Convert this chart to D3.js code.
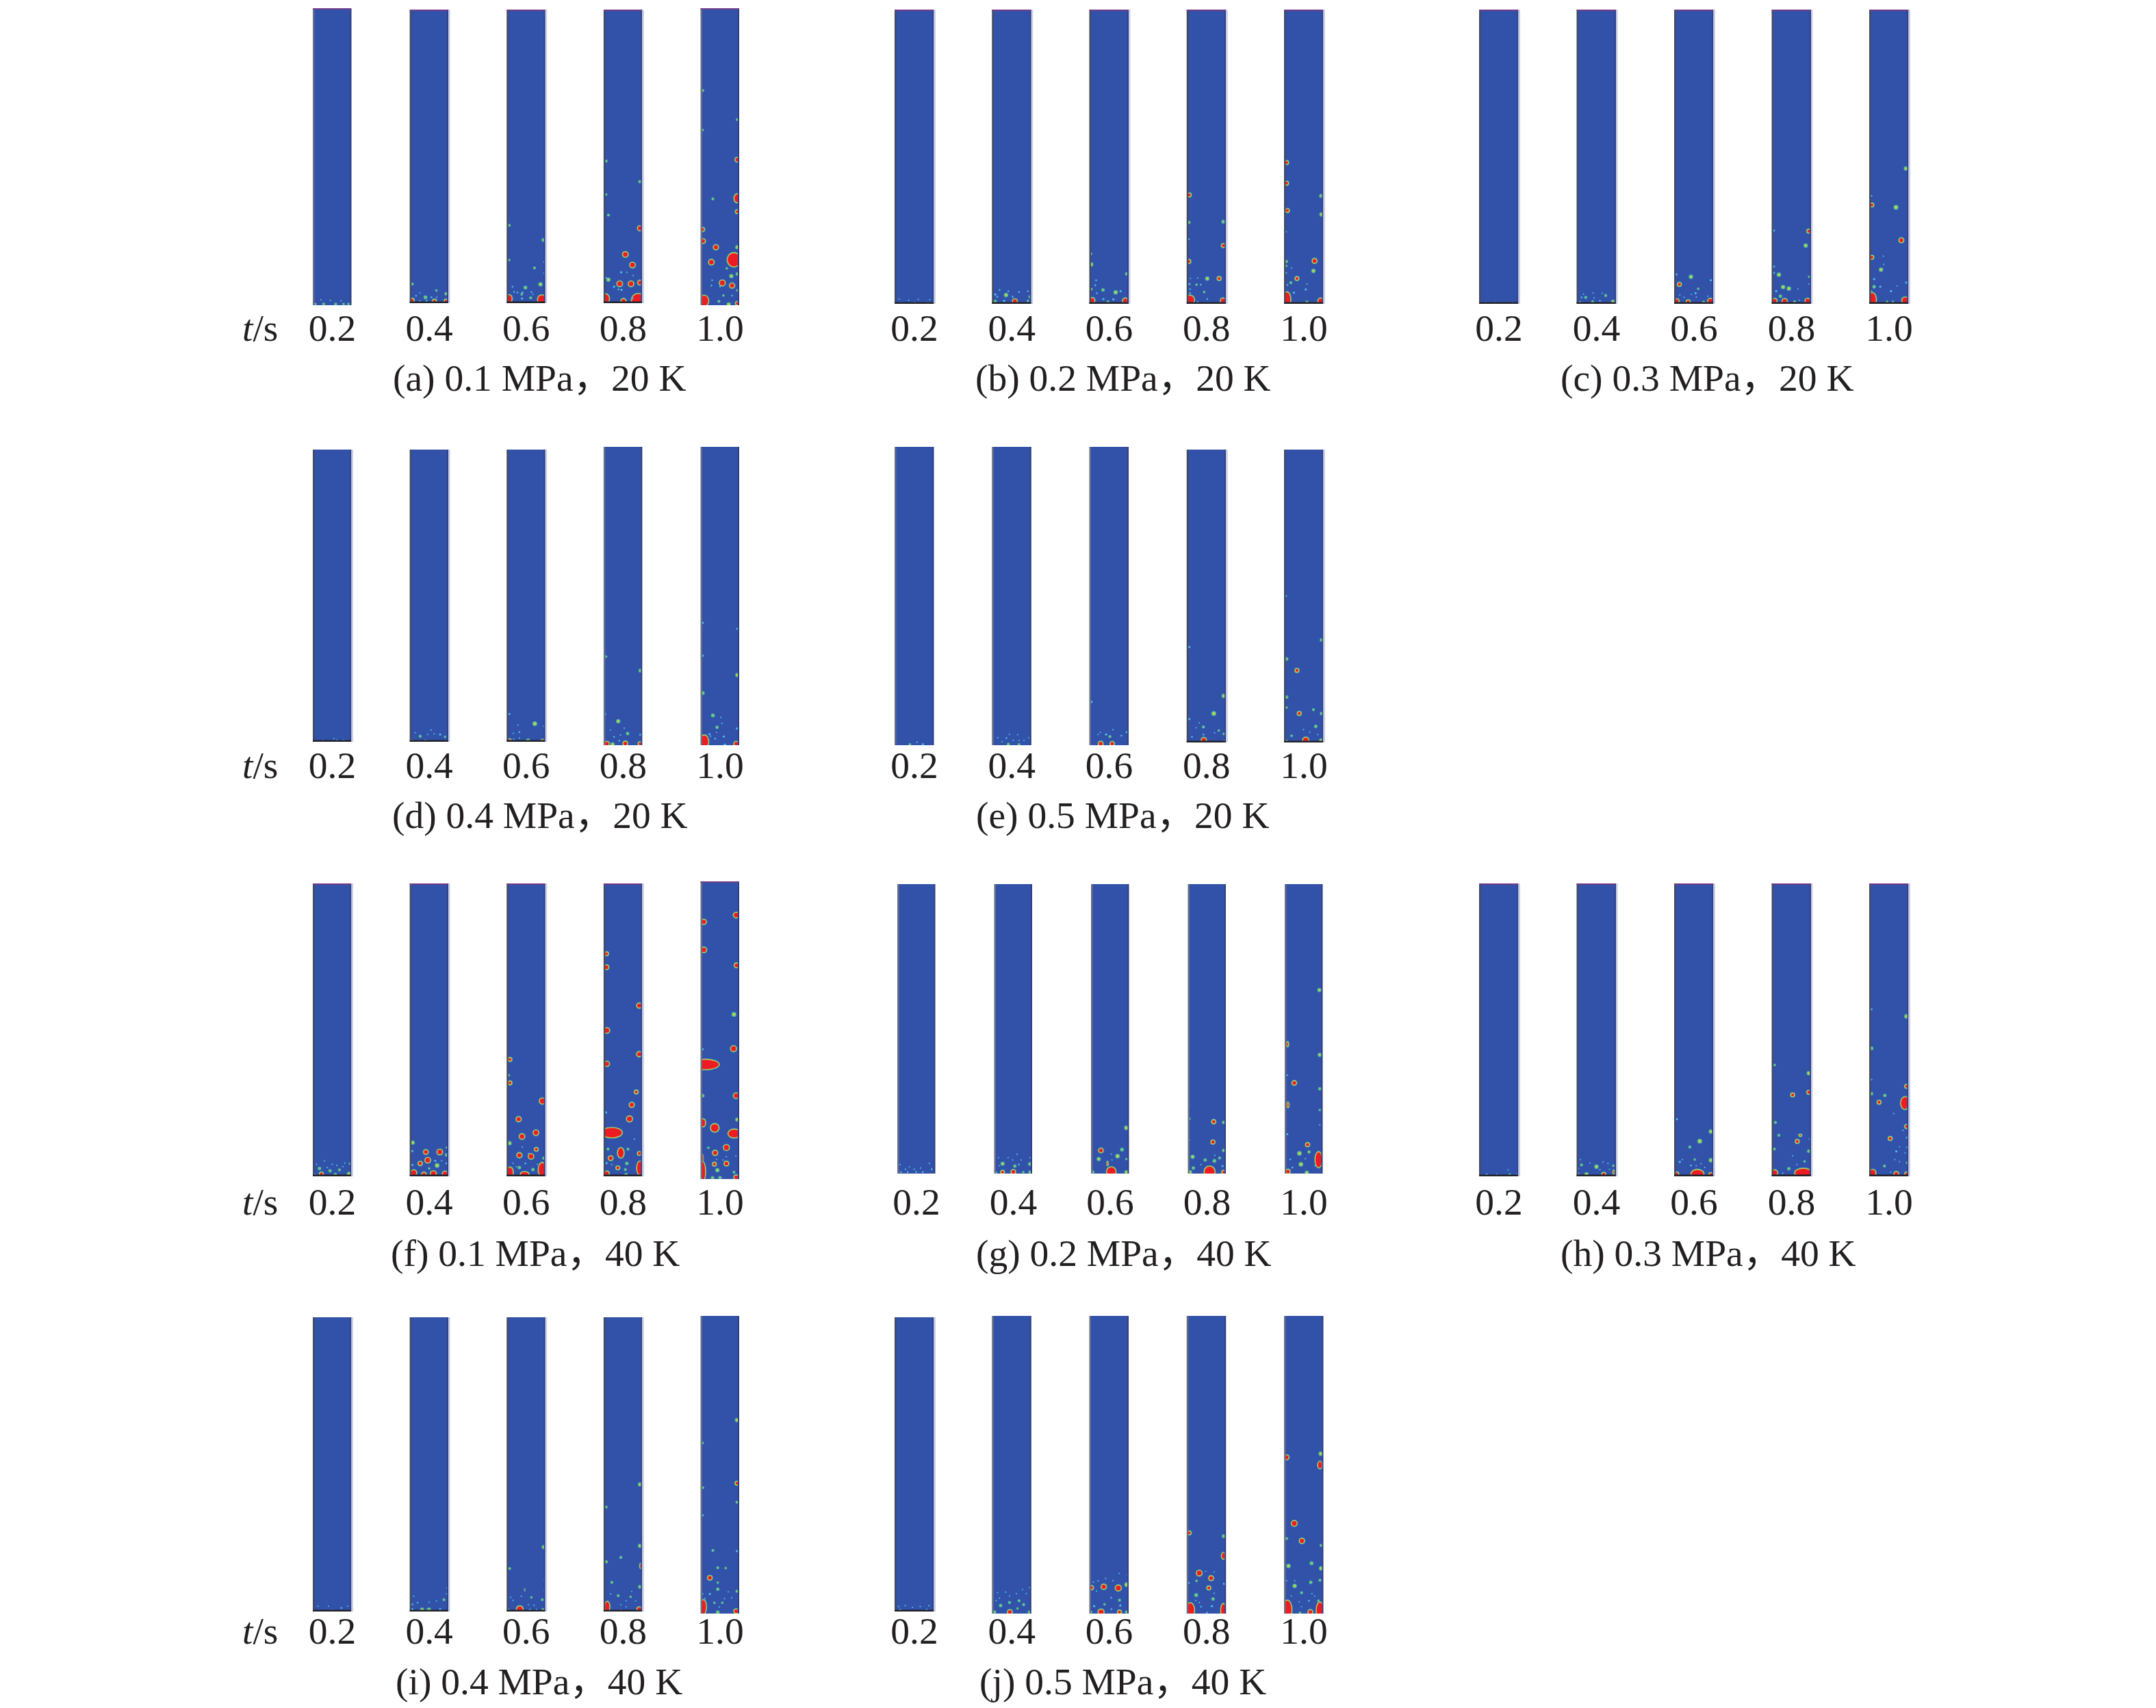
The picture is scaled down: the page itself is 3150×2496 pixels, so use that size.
<!DOCTYPE html>
<html>
<head>
<meta charset="utf-8">
<title>Bubble contours</title>
<script src="https://cdnjs.cloudflare.com/ajax/libs/d3/7.8.5/d3.min.js"></script>
<style>
  html, body { margin: 0; padding: 0; background: #fff; }
  svg { display: block; }
</style>
</head>
<body>
<div id="chart"></div>
<script>
// Time steps shared by every panel
var times = ["0.2", "0.4", "0.6", "0.8", "1.0"];

var captions = [
  "(a) 0.1 MPa，20 K", "(b) 0.2 MPa，20 K", "(c) 0.3 MPa，20 K",
  "(d) 0.4 MPa，20 K", "(e) 0.5 MPa，20 K",
  "(f) 0.1 MPa，40 K", "(g) 0.2 MPa，40 K", "(h) 0.3 MPa，40 K",
  "(i) 0.4 MPa，40 K", "(j) 0.5 MPa，40 K"
];

// One list per time step. Bubble = [across %, height %, radius, optional vertical radius]
// (radius in % of the column width)
var bubblesA = [
  [[20,1.8,1.5],[45,1.6,1.2],[73,1.5,1.2],[5,.4,3],[27,.4,3.5],[59,.4,3.5],[80,.4,3],[93,.4,3]],
  [[5,6.5,3.5],[5,1,6],[40,2,4.5],[64,.7,6],[95,.7,6],[95,3.2,4],[69,4.3,3],[25,3.5,1.5],[56,2,2],[15,2.5,2],[70,2,1.5],[25,.7,2],[43,.7,2.5]],
  [[5,26.5,3.5],[96,21.5,4.5],[5,14.7,3],[72,12,3.5],[88,6.4,5],[48,5.3,4.5],[5,1.5,10,13],[92,1.3,14],[38,3,3],[62,1.8,3.5],[39,1.6,2.5],[14,5.6,2],[18,3.8,2],[27,3.6,2],[40,3.6,2.5],[64,3.8,2],[68,3,1.5],[97,10.2,1.5],[97,14,1.5]],
  [[5,48.4,3.5],[95,41.4,4],[5,37,3],[11,30,3.5],[95,25.5,7.5],[56,16.6,8],[75,13,8],[11,8,5],[41,6.6,8],[71,6.6,8],[95,7,7],[4,1.5,12,15],[90,1,20],[51,.7,9],[45,10.5,2.5],[60,10.5,1.5],[5,8.6,2],[46,4.5,2.5],[38,4.7,2],[26,5.6,2.5],[77,9.4,1.5],[75,1.6,2]],
  [[4,72.3,3.5],[96,62.5,3.5],[4,59,3],[96,49,7],[95,36,10,14],[96,31.5,6],[31,35.8,3.5],[4,25.5,6],[5,21.6,7],[39,19.5,9],[96,19.5,5],[27,14.5,8],[87,15.3,20,21],[68,12.4,3],[80,9.8,5],[96,10.5,4],[56,7.5,10],[82,6.6,9],[29,8.4,2],[27,6.6,2],[96,5,3],[8,1.5,14,17],[96,.6,6],[59,3.3,3],[82,3.2,2],[47,1.3,3.5],[73,.3,5],[50,6.3,2]]
];

var bubblesB = [
  [[10,1.6,1.5],[35,1.2,1.5],[60,1.5,1.5],[90,1.4,1.5],[15,.3,2.5],[50,.3,2.5],[85,.3,2.5]],
  [[35,3,5],[58,.9,7],[98,2.4,4],[7,3.2,2.5],[18,4.7,2],[41,4.3,2],[69,4,2],[92,4.3,2],[7,.9,3.5],[30,1,2.5],[92,1,3],[12,2.4,2],[52,2.4,2]],
  [[3,17,3],[3,13.4,5],[96,10.2,4],[16,8,2],[14,6.3,2],[34,4.7,4],[67,3.9,5],[80,4.3,2.5],[4,5,3],[6,1.2,9],[92,1.1,9],[35,1.6,2.5],[61,1.5,2.5],[47,.7,3.5],[18,3.6,2]],
  [[5,37,6],[4,27.7,4],[94,27.9,4.5],[4,22,2],[94,19.8,6],[4,14.4,6],[52,8.6,5],[83,8.6,6],[8,8.6,1.5],[27,8.8,1.5],[5,6.7,2.5],[24,6.5,3],[35,6.5,2],[44,4,3],[7,1.4,14],[93,1.1,9],[52,1.6,2],[27,.6,2.5],[7,5,2],[7,3.6,2]],
  [[5,48,6],[5,41,6],[95,36.7,4.5],[7,31.7,6],[96,30.4,5],[4,24.5,1.5],[4,14.4,4],[78,14.6,7],[75,11.2,5],[4,12.9,3],[18,12.2,1.5],[4,10.5,2],[32,8.6,6],[16,7.2,3.5],[7,6.4,2],[58,6.7,1.5],[55,4.9,2.5],[24,3.8,2.5],[6,1.5,12,22],[94,1,8],[58,.6,3.5]]
];

var bubblesC = [
  [[15,.3,2.5],[40,.3,2],[85,.3,2.5]],
  [[22,2.2,3.5],[74,2.8,3.5],[11,2.2,2],[41,3.7,1.5],[65,3.6,1.5],[44,2,1.5],[16,3.3,1.2],[59,1,2],[40,.7,3.5],[93,.7,5],[7,.5,3]],
  [[4,10,2.5],[42,9.2,5],[12,6.6,6],[94,8,2.5],[61,5.1,3],[54,3.6,2.5],[13,3,1.5],[24,2.2,1.5],[43,3.2,1.2],[56,2.3,1.5],[86,2.6,1.2],[5,.9,7],[35,.7,6],[75,.6,3.5],[93,.9,8]],
  [[4,24.9,2.5],[95,24.7,6],[87,19.8,5],[4,12.7,2.5],[4,10.5,2.5],[17,9.9,5],[96,9.2,3],[28,5.7,5],[43,5.2,5],[10,4.3,2.5],[67,5.1,1.5],[96,6.7,1.5],[21,2.6,4],[6,1,7],[32,.9,9],[58,.7,3.5],[92,1,9],[70,1.2,1.5]],
  [[94,46,5],[4,36.7,2],[5,33.6,6],[68,32.8,5.5],[82,21.6,7],[5,15.8,6],[35,16.2,1.5],[36,13.4,1.5],[29,11.6,5],[11,8.4,2.5],[95,7.2,2.5],[11,5.8,4],[27,5.8,2.5],[55,4.3,2.5],[71,6.1,1.2],[6,1.5,13,20],[92,1.2,11],[45,.7,3],[60,.7,3],[4,4.3,2]]
];

var bubblesD = [
  [[62,.5,2.5],[25,.3,2.5],[54,1.1,1.5],[80,.5,2]],
  [[26,1.9,3.5],[79,2.5,2.5],[46,2.5,1.5],[63,2.7,1.5],[40,.4,3],[5,.3,3],[92,1.7,3],[13,3.1,1.2],[55,4,1.2],[23,.3,1.5],[94,.2,3]],
  [[73,6.2,5.5],[5,9.5,2.5],[32,3.3,2],[16,2.9,1.2],[32,1.3,1.5],[17,.9,1.2],[28,5.7,1],[5,.4,6],[55,.4,5],[94,.2,6],[97,5.3,1.2]],
  [[5,29.7,3],[96,25,4.5],[3,10.4,2],[37,8,5],[53,5.7,1.5],[16,5.1,1.5],[62,3.9,4],[96,3.5,2.5],[26,2.8,2],[40,1.5,2],[43,3.4,1],[7,.5,7],[22,.3,5],[56,.6,7],[95,.5,6]],
  [[4,41,2.5],[96,39,2.5],[4,30,2.5],[96,23.5,5],[4,17.5,4.5],[31,10,4.5],[52,9.3,1.5],[55,7.3,1.5],[42,6,4],[95,5.6,2.5],[41,4.3,1.2],[22,3.7,2.5],[25,3,1.5],[60,2.9,2.5],[37,2.2,2],[8,1.2,14,20],[93,.5,7],[63,.2,2.5]]
];

var bubblesE = [
  [[38,.3,3],[72,.3,2.5],[57,1,1]],
  [[41,.3,3.5],[69,.3,3],[36,2.4,2],[54,1.7,1.5],[69,1.6,1.5],[82,1.6,1.5],[13,2.5,1.2],[25,1.2,1.2],[94,2.5,1.2],[44,3.6,1],[65,3.5,1]],
  [[4,14.5,2.5],[28,.5,7],[58,.5,6.5],[42,3.6,2.5],[52,2.9,3.5],[82,3.2,2],[96,4.4,2.5],[27,4.3,1.5],[60,5.2,1],[21,3.6,1]],
  [[5,32.6,2.5],[95,15.9,5],[69,9.9,5.5],[5,8,2.5],[42,5.3,3.5],[82,4.1,3],[12,1.9,2],[42,2.7,2],[95,2.9,3],[43,.8,9],[97,.4,3],[71,3.3,1.2],[23,5,1.2],[31,6.7,1]],
  [[4,50,2],[96,35,4],[5,28.5,4],[32,24.6,6],[5,15.5,4],[5,11.9,3],[75,11.2,3.5],[38,9.9,6],[96,9.9,4],[81,5.5,4],[49,4.4,1.5],[18,2.3,3],[86,2.7,1.5],[65,3.5,1.2],[55,.8,10],[5,.5,3],[95,.6,5]]
];

var bubblesF = [
  [[16,2.7,4],[44,1.9,4],[69,2.2,3.5],[21,.8,6],[58,.6,4],[95,.8,5.5],[97,4.3,3],[78,3.3,1.5],[37,3,1.5],[62,3.7,1.5],[50,4.1,1.2],[8,4.1,1.2],[29,5.3,1],[83,4.5,1.2],[3,.6,2.5]],
  [[6,11.5,5],[41,8.3,7],[78,8.3,8],[97,9.8,3],[96,7.3,4],[5,8.6,2.5],[46,5.5,8],[26,4.4,6.5],[71,3.7,5.5],[66,5.3,2.5],[5,3.9,2.5],[96,4.4,2.5],[50,2.7,3],[9,1.2,10],[36,.6,7],[61,.9,10],[92,.9,9],[83,5.3,1.2]],
  [[7,39.9,6],[4,34.5,3],[7,31.9,6],[93,25.7,8.5],[30,19.5,9],[76,14.9,8],[39,13.6,8],[6,11.3,5],[77,9.2,6],[32,7.2,9],[63,6.8,9.5],[97,6.2,4],[7,1.4,11,16],[93,2.2,13,22],[46,.6,14,10],[68,2.3,4],[32,3,4],[48,4.4,2],[15,4.4,1.5],[24,3.3,1.5],[40,10,1.2],[56,7.8,1.5],[80,4.1,1.5]],
  [[6,76,6],[6,71.4,7],[93,58.3,9],[7,49.8,8],[93,41.7,7.5],[7,38.4,9],[85,28.8,6],[5,21.8,2.5],[73,24.4,9],[67,19.6,8.5],[20,14.9,30,16],[10,9.3,3.5],[44,8,11,16],[63,9.3,3.5],[93,7.8,6],[17,6.2,7],[60,4.4,4],[36,2.9,6],[95,2.8,11,21],[7,1,7],[58,.6,4],[56,2.3,3.5],[80,12.7,1.2],[6,4.5,2.5],[40,6.5,1.5],[20,4,1.5]],
  [[93,88.7,8],[7,86.4,7.5],[7,77,8],[94,71.8,7],[87,55.3,5.5],[86,43.8,10],[4,43.6,2.5],[10,38.5,40,16],[4,28,4],[93,28,8],[96,20,5],[5,18.9,9,13],[36,17.2,13.5],[88,15.3,19,14],[67,10.6,10],[19,10.5,3],[37,8.8,9],[4,7,3,12],[67,5.2,7],[35,5,6],[43,3,5],[3,2.5,11,30],[87,2.3,3.5],[93,.6,7],[30,.4,4],[50,.5,4],[41,6.6,1.5],[58,6.4,1.5],[92,7.7,1.5],[67,7.5,1.2]]
];

var bubblesG = [
  [[8,.5,2],[26,.5,2],[49,.5,2],[67,.5,2],[91,1.5,2],[6,3.1,1.2],[31,2.3,1.2],[61,1.9,1.2],[85,3.5,1.2],[20,1.5,1.2],[44,1.5,1.2]],
  [[21,3.4,5],[54,2.6,4],[95,3.3,4.5],[21,.5,6],[50,.6,7],[95,.5,4],[3,.3,3],[77,.5,3],[10,5.5,1.5],[36,5.5,1.2],[48,4.7,1.2],[71,4.7,1.2],[65,3.1,2],[95,5.5,1.2],[60,6.7,1],[12,2.7,1.5]],
  [[94,15.8,5.5],[25,8,7],[82,8.3,4.5],[70,6,5.5],[19,5,5],[94,5,3],[43,3.5,4,8],[53,.7,15],[94,.5,5],[3,.5,4],[53,6.7,1.2],[55,4.7,1.2]],
  [[2,23.5,1.5],[2,18.9,3.5],[68,17.9,6.5],[95,17.7,4],[2,11.7,2],[66,10.9,6.5],[95,8,4],[11,5.8,5],[45,4.7,4],[70,4.4,4.5],[84,5.4,3.5],[13,1.9,4],[92,2.6,2.5],[57,.7,17],[4,.5,5],[95,.5,6],[71,6.3,1.2],[34,3.1,1.2]],
  [[92,63.4,5],[6,44.7,5,9],[93,41,5],[5,34,2],[24,31.3,7],[93,29.3,4],[7,23.7,5,10],[93,22,3],[5,13.6,2.5],[93,16.8,1],[60,10,6.5],[38,7,5.5],[64,7.5,4],[90,4.8,12,24],[42,3.2,5.5],[13,4.9,2],[54,5.1,1.5],[19,2.1,2],[80,2.7,1.2],[7,.7,7],[58,.3,5]]
];

var bubblesH = [
  [[18,.6,2.5],[44,.6,1.2],[78,.6,3],[74,2.2,1.2],[97,.6,2]],
  [[11,3.9,3.5],[50,3.3,5],[94,3.6,3],[95,1.4,4,8],[24,.7,5],[69,.7,6],[59,2.3,1.2],[84,2.4,1.5],[3,2.6,1.2],[3,1,2],[67,4.9,1],[80,4.4,1],[33,4.5,1],[8,5.7,1]],
  [[5,19.5,2.5],[94,15.3,5],[65,12,5.5],[39,10,3.5],[94,5.5,5],[52,5.7,3],[13,4.9,2.5],[68,4.3,1.5],[42,3.7,2],[56,3.6,1.5],[78,3,1.2],[5,.8,6],[59,.8,19,14],[94,.6,6],[20,5.7,1]],
  [[6,38,3],[95,35.2,5],[53,27.8,6],[95,28.7,6],[8,18.4,3.5],[17,14,3.5],[73,14,6,5],[65,11.9,6],[5,9.3,3.5],[95,8.6,4],[84,5.1,3],[43,2.6,4],[6,1.2,10],[81,1.2,25,14],[97,12.7,1.2],[53,7,1],[64,4,1],[27,1,1]],
  [[4,57,2.5],[96,54.6,5.5],[4,43.7,4.5],[4,33,2],[96,30.7,6],[4,28.2,4],[39,27.6,4],[24,25.3,6],[92,25,14,19],[97,23,3],[62,21.4,1.5],[96,17,6],[53,12.9,6],[97,13.2,2.5],[86,15.7,1.2],[69,8.5,2.5],[92,8,1.5],[97,9.9,2],[77,10.1,1],[38,3.5,3.5],[77,5,1.5],[97,4.6,3],[7,1.2,11],[69,.8,7],[96,.8,6],[54,1.4,1.2],[65,5.7,1]]
];

var bubblesI = [
  [[12,1.8,1.2],[40,1.8,1],[74,1.2,2],[91,1.8,1],[50,.4,2]],
  [[19,3,2],[89,4,3.5],[50,3.2,1.5],[69,3.6,1.2],[31,.6,5],[49,.6,5],[5,.8,2.5],[5,2.4,2],[96,6,1.2],[79,.8,2.5],[9,5.2,1],[97,8,1]],
  [[97,21.9,5],[6,14.6,3.5],[46,7.4,2.5,5],[98,10.5,1.2],[37,5.2,1.5],[64,4.8,3],[93,4,3.5],[9,4.8,1.5],[15,3.8,1.5],[33,.8,11],[3,.6,3],[95,.6,4],[60,.6,2.5],[71,2.1,1.2],[56,2.3,1],[78,.6,2],[98,7.2,1]],
  [[95,43.2,5],[5,35.5,3.5],[95,22.3,5],[5,16.9,4],[44,18.4,3.5],[97,15.5,5,9],[20,9.9,3.5],[95,8.4,4.5],[37,5.4,3.5],[70,5,3],[17,6,1.2],[58,3.6,1.5],[83,3.6,1.2],[44,2.3,1.5],[58,1.6,1.5],[8,1.6,9,17],[93,.8,7],[44,.4,2],[73,6.8,1]],
  [[95,65,5],[4,57.3,3],[95,43.8,6],[4,42.3,3.5],[95,37.4,3.5],[4,33,2.5],[31,21.2,3.5],[95,21,2.5],[44,15.4,3.5],[65,15.3,3],[23,12,7],[44,10.4,3],[44,8.2,4],[95,7.5,3.5],[23,6.6,2.5],[4,6.6,1.5],[10,5.1,1.2],[81,5.3,1.5],[72,7.3,1],[62,5,1],[56,3.6,3],[35,3.6,3],[48,2.2,1.2],[6,2.2,10,22],[93,.8,7],[44,.4,4.5]]
];

var bubblesJ = [
  [[45,1.4,1.5],[9,1.7,1.5],[26,2,1.2],[65,1.7,1.2],[82,.6,2],[88,2,1],[13,.6,2]],
  [[21,2.7,4],[44,3.7,3.5],[69,4.3,3.5],[81,3,3.5],[65,1.7,3],[45,.5,7],[5,.5,4],[96,.5,4],[44,5.9,1.5],[18,5.2,1.2],[34,7.2,1.2],[78,8.1,1.2],[96,8.7,1.2],[62,6.7,1.2],[88,6.7,1.2],[9,4.3,1.2],[13,7,1]],
  [[36,9,7.5],[74,8.6,10],[4,8.7,6],[96,9.7,5.5],[17,7.5,1.2],[55,5.3,2],[77,4.5,3.5],[38,3.1,3],[11,2.5,2.5],[79,2.7,2.5],[56,1.5,2],[29,.5,10],[77,.5,6],[3,.5,3],[96,.5,4],[21,11,1.2],[60,11,1.2],[41,11.8,1],[98,13,1.2],[9,10.6,1],[76,13.5,1]],
  [[5,27.1,6],[95,26,4.5],[94,19.4,7,11],[31,13.6,8],[62,11.9,7],[56,8.6,6],[24,11,3],[4,10.3,2],[96,10,2.5],[23,6.2,4.5],[67,4.9,4],[22,4.4,1.5],[64,2.5,2.5],[36,2.3,2],[8,1.1,13,22],[94,1.1,9,20],[51,.3,2],[70,14,1.2],[48,14.2,1.2],[70,6.8,1.2],[31,3.7,1]],
  [[94,53.7,5],[5,52.5,7],[92,49.9,8,12],[25,30.3,8],[45,24.4,9],[5,25.2,3.5],[95,22.9,3.5],[70,16.9,4.5],[10,16,5],[95,15.2,5],[68,10.5,4],[92,11.2,3.5],[26,9.3,5],[44,7,3.5],[5,11,1.2],[26,11,1.2],[78,5.9,1.2],[88,4.3,3],[63,4.3,2],[38,3.9,1.5],[44,2.3,1.2],[7,1.3,14,27],[92,1.1,12,24],[67,.5,7],[40,.3,3],[71,6.7,1],[17,5.9,1]]
];

var allBubbles = [bubblesA, bubblesB, bubblesC, bubblesD, bubblesE, bubblesF, bubblesG, bubblesH, bubblesI, bubblesJ];

// ── Layout, one row per panel ────────────────────────────────────────────────
// first / last column centre, column width, top and bottom of each column,
// whether the column has the dark base line, whether the panel has the purple cap
var layout = [
  { c0: 485.5, c4: 1052, w: 55, tops: [12,14,14,14,12],           bots: [446,443,443,443,446],           base: [0,1,1,1,0], cap: 1, capX: 574,  labY: 498,  titleY: 571 },
  { c0: 1336,  c4: 1905, w: 56, tops: [14,14,14,14,14],           bots: [444,444,444,444,444],           base: [1,1,1,1,1], cap: 1, capX: 1425, labY: 498,  titleY: 571 },
  { c0: 2190,  c4: 2760, w: 56, tops: [14,14,14,14,14],           bots: [444,444,444,444,444],           base: [1,1,1,1,1], cap: 1, capX: 2280, labY: 498,  titleY: 571 },
  { c0: 485.5, c4: 1052, w: 55, tops: [657,657,657,653,653],      bots: [1084,1084,1084,1089,1089],      base: [1,1,1,0,0], cap: 0, capX: 573,  labY: 1137, titleY: 1210 },
  { c0: 1336,  c4: 1905, w: 56, tops: [653,653,653,657,657],      bots: [1089,1089,1089,1085,1085],      base: [0,0,0,1,1], cap: 0, capX: 1426, labY: 1137, titleY: 1210 },
  { c0: 485.5, c4: 1052, w: 55, tops: [1291,1291,1291,1291,1288], bots: [1719,1719,1719,1719,1723],      base: [1,1,1,1,0], cap: 1, capX: 571,  labY: 1775, titleY: 1850 },
  { c0: 1339,  c4: 1905, w: 54, tops: [1292,1292,1292,1292,1292], bots: [1715,1715,1715,1715,1715],      base: [0,0,0,0,0], cap: 0, capX: 1426, labY: 1775, titleY: 1850 },
  { c0: 2190,  c4: 2760, w: 56, tops: [1291,1291,1291,1291,1291], bots: [1719,1719,1719,1719,1719],      base: [1,1,1,1,1], cap: 1, capX: 2280, labY: 1775, titleY: 1850 },
  { c0: 485.5, c4: 1052, w: 55, tops: [1925,1925,1925,1925,1923], bots: [2355,2355,2355,2355,2358],      base: [1,1,1,1,0], cap: 0, capX: 578,  labY: 2402, titleY: 2476 },
  { c0: 1336,  c4: 1905, w: 56, tops: [1925,1923,1923,1923,1923], bots: [2355,2358,2358,2358,2358],      base: [1,0,0,0,0], cap: 0, capX: 1431, labY: 2402, titleY: 2476 }
];

// Panels that carry the "t/s" label at their left
var axisPanels = [0, 3, 5, 8];

var BLUE = "#3251a8", RED = "#ed1c24", RING = "#c4d24e", TEAL = "#3fa3b4",
    GREEN = "#6fc877", CYAN = "#4cb9e6", INK = "#231f20";

var svg = d3.select("#chart").append("svg").attr("width", 3150).attr("height", 2496);
var defs = svg.append("defs");

// slight softening, the contours in the figure are a resampled raster
defs.append("filter").attr("id", "soft")
  .attr("x", "-5%").attr("y", "-5%").attr("width", "110%").attr("height", "110%")
  .append("feGaussianBlur").attr("stdDeviation", 0.5);

var serif = "'Liberation Serif', 'Noto Sans CJK SC', serif";
var FONT_SIZE = 55.5;

// ── Panels ───────────────────────────────────────────────────────────────────
layout.forEach(function (p, pi) {
  var g = svg.append("g").attr("class", "panel");
  var xCol = d3.scalePoint().domain(times).range([p.c0, p.c4]);

  times.forEach(function (t, ti) {
    var cx = xCol(t);
    var left = cx - p.w / 2, right = cx + p.w / 2;
    var x = d3.scaleLinear().domain([0, 100]).range([left, right]);
    var y = d3.scaleLinear().domain([0, 100]).range([p.bots[ti], p.tops[ti]]);
    var pxPerUnit = p.w / 100;
    var lined = p.base[ti];

    var clipId = "clip-" + pi + "-" + ti;
    defs.append("clipPath").attr("id", clipId).append("rect")
      .attr("x", left).attr("y", y(100)).attr("width", p.w).attr("height", y(0) - y(100));

    var col = g.append("g");

    col.append("rect").attr("x", left).attr("y", y(100))
      .attr("width", p.w).attr("height", y(0) - y(100)).attr("fill", BLUE);

    var inner = col.append("g").attr("clip-path", "url(#" + clipId + ")")
      .append("g").attr("filter", "url(#soft)");

    // contour levels: big ones get a red core inside a thin ring, small ones stay green or cyan
    allBubbles[pi][ti].forEach(function (b) {
      var round = b[3] === undefined;
      // small spots read a bit wider than their core because of the halo
      var grow = (round && b[2] < 9) ? 1.2 : 1;
      var rx = Math.max(1.1, b[2] * pxPerUnit * grow);
      var ry = round ? rx : b[3] * pxPerUnit;
      var levels;
      if (round && b[2] < 2.6) levels = [[0, CYAN]];
      else if (round && b[2] < 4.6) levels = [[0, TEAL], [0.7, GREEN]];
      else if (round && b[2] < 5.6) levels = [[0, TEAL], [0.8, GREEN], [1.8, RING]];
      else levels = [[0, TEAL], [0.8, RING], [1.9, RED]];
      levels.forEach(function (l) {
        inner.append("ellipse")
          .attr("cx", x(b[0])).attr("cy", y(b[1]))
          .attr("rx", Math.max(0.5, rx - l[0])).attr("ry", Math.max(0.5, ry - l[0]))
          .attr("fill", l[1]);
      });
    });

    // column edges
    col.append("rect").attr("x", left - 1).attr("y", y(100)).attr("width", 2.5)
      .attr("height", y(0) - y(100)).attr("fill", lined ? "#474a59" : "#6a6f80");
    col.append("rect").attr("x", right - 1.5).attr("y", y(100)).attr("width", 2)
      .attr("height", y(0) - y(100)).attr("fill", "#2f3f86");
    if (lined) {
      col.append("rect").attr("x", right + 0.5).attr("y", y(100)).attr("width", 2.5)
        .attr("height", y(0) - y(100)).attr("fill", "#c9cfe9");
      col.append("rect").attr("x", left - 1).attr("y", y(0) - 2.5).attr("width", p.w + 1)
        .attr("height", 2.5).attr("fill", "#22222a");
    }
    if (p.cap) {
      col.append("rect").attr("x", left - 1).attr("y", y(100)).attr("width", p.w + 1)
        .attr("height", 1.8).attr("fill", "#7b3a86");
    }

    g.append("text")
      .attr("x", cx).attr("y", p.labY)
      .attr("text-anchor", "middle")
      .style("font-family", serif).style("font-size", FONT_SIZE + "px")
      .attr("fill", INK)
      .text(t);
  });

  g.append("text")
    .attr("x", p.capX).attr("y", p.titleY)
    .style("font-family", serif).style("font-size", FONT_SIZE + "px")
    .attr("fill", INK)
    .text(captions[pi]);

  if (axisPanels.indexOf(pi) >= 0) {
    var ts = g.append("text").attr("x", 354).attr("y", p.labY)
      .style("font-family", serif).style("font-size", FONT_SIZE + "px").attr("fill", INK);
    ts.append("tspan").style("font-style", "italic").text("t");
    ts.append("tspan").text("/s");
  }
});
</script>
</body>
</html>
